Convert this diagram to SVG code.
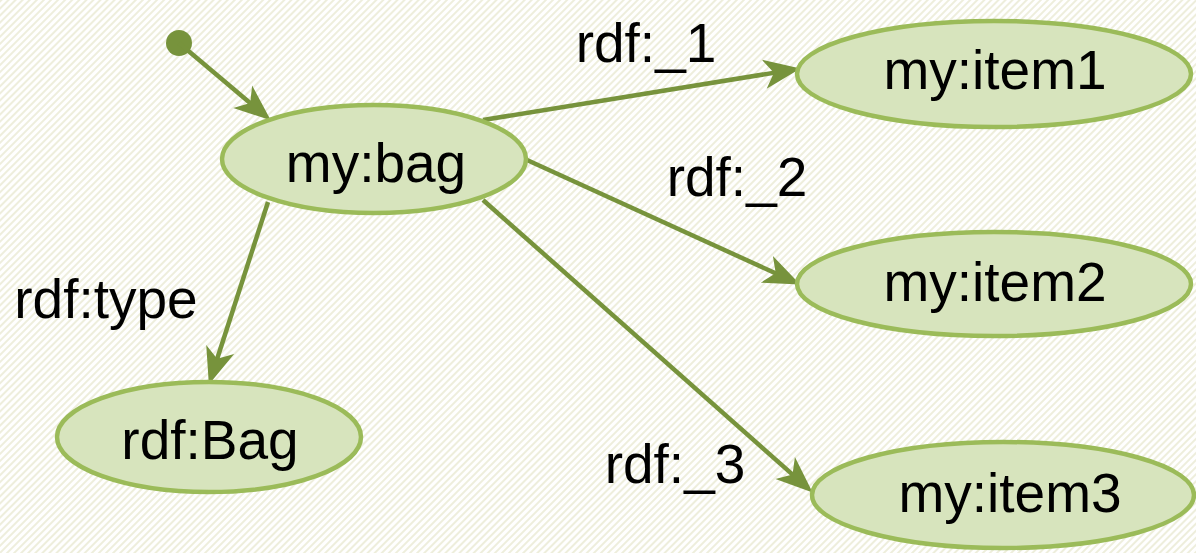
<svg xmlns="http://www.w3.org/2000/svg" width="1196" height="553" viewBox="0 0 1196 553">
<style>
.node ellipse{fill:#d7e4bd;stroke:#9bbb59;stroke-width:4.5}
.node text,.lbl{font-family:"Liberation Sans",Arial,sans-serif;font-size:55px;fill:#000;text-anchor:middle}
.edge{stroke:#77933c;stroke-width:4.5;fill:none;marker-end:url(#arr)}
</style>
<defs>
<pattern id="bg" patternUnits="userSpaceOnUse" width="5" height="5" patternTransform="rotate(45)">
<rect width="5" height="5" fill="#ffffff"/>
<rect width="2" height="5" fill="#eeeedc"/>
</pattern>
<marker id="arr" markerUnits="userSpaceOnUse" markerWidth="44" markerHeight="44" viewBox="-18 -16 36 32" refX="0" refY="0" orient="auto">
<path d="M16,0 L-14,-12 L-6,0 L-14,12 Z" fill="#77933c"/>
</marker>
</defs>
<rect width="1196" height="553" fill="url(#bg)"/>
<g id="connectors">
<circle cx="179" cy="43" r="13" fill="#77933c"/>
<line class="edge" x1="179" y1="43" x2="255.8" y2="107.7"/>
<line class="edge" x1="483" y1="120" x2="781.2" y2="71.6"/>
<line class="edge" x1="527" y1="160" x2="782.4" y2="276.4"/>
<line class="edge" x1="483" y1="200" x2="798" y2="479.4"/>
<line class="edge" x1="268" y1="202" x2="214.9" y2="365.8"/>
<text class="lbl" x="646" y="62">rdf:_1</text>
<text class="lbl" x="737" y="196">rdf:_2</text>
<text class="lbl" x="106" y="318">rdf:type</text>
<text class="lbl" x="675" y="483">rdf:_3</text>
</g>
<g id="bag" class="node"><ellipse cx="374" cy="159" rx="152" ry="54"/><text x="376" y="182">my:bag</text></g>
<g id="item1" class="node"><ellipse cx="994" cy="74" rx="197" ry="53"/><text x="995" y="89">my:item1</text></g>
<g id="item2" class="node"><ellipse cx="994" cy="284" rx="197" ry="52"/><text x="995" y="301">my:item2</text></g>
<g id="item3" class="node"><ellipse cx="1003" cy="495" rx="191" ry="53"/><text x="1010" y="512">my:item3</text></g>
<g id="rdfBag" class="node"><ellipse cx="209" cy="437" rx="152" ry="55"/><text x="210" y="459">rdf:Bag</text></g>
</svg>
